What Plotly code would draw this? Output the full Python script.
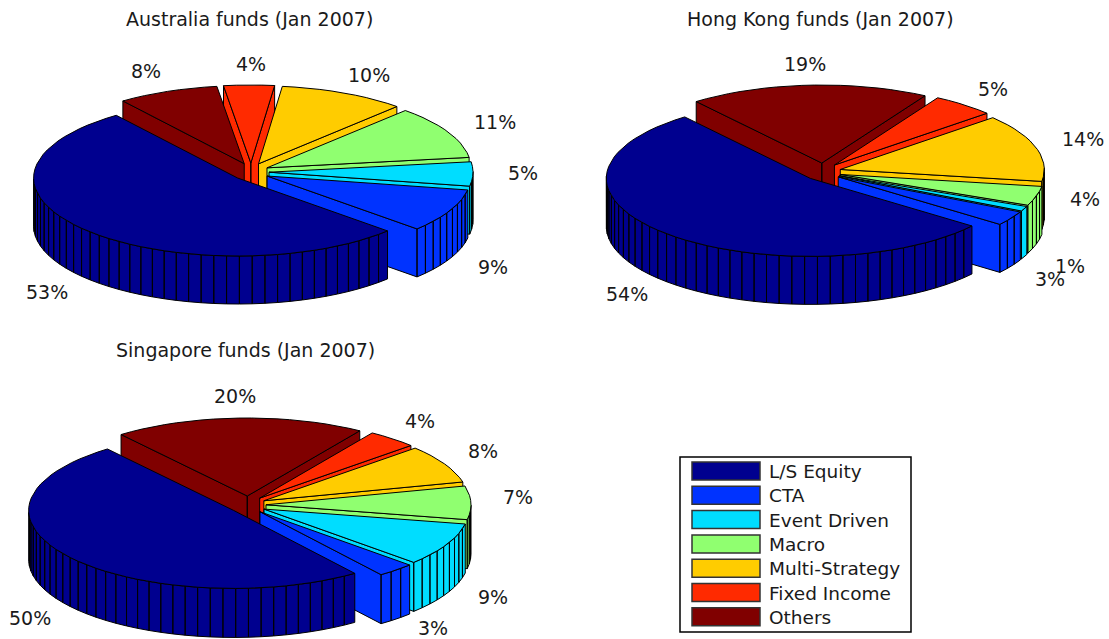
import numpy as np
import plotly.graph_objects as go

# Fund strategy categories and the share of funds in each, per domicile
categories = ["L/S Equity", "CTA", "Event Driven", "Macro", "Multi-Strategy", "Fixed Income", "Others"]
australia = [53, 9, 5, 11, 10, 4, 8]
hong_kong = [54, 3, 1, 4, 14, 5, 19]
singapore = [50, 3, 9, 7, 8, 4, 20]

colors = ["#00008F", "#0033FF", "#00DDFF", "#90FF70", "#FFCC00", "#FF2A00", "#800000"]
FONT = "DejaVu Sans, Liberation Sans, Arial, sans-serif"
TEXT = "#1a1a1a"

# Placement of each pie on the page: centre, ellipse radii, wall height, explode offsets, start angle
panels = [
    dict(title="Australia funds (Jan 2007)", title_xy=(249, 19), values=australia,
         cx=251, cy=172, rx=204, ry=78, depth=48, ex=18, ey=9, start=126.5,
         labels_xy=[(47, 292), (493, 267), (523, 173), (495, 122), (369, 75), (251, 64), (146, 71)]),
    dict(title="Hong Kong funds (Jan 2007)", title_xy=(820, 19), values=hong_kong,
         cx=823, cy=172, rx=204, ry=78, depth=48, ex=18, ey=9, start=128,
         labels_xy=[(627, 294), (1050, 279), (1070, 266), (1085, 199), (1083, 139), (993, 89), (805, 64)]),
    dict(title="Singapore funds (Jan 2007)", title_xy=(245, 350), values=singapore,
         cx=248, cy=505, rx=205, ry=78, depth=49, ex=18, ey=9, start=128,
         labels_xy=[(30, 618), (433, 628), (493, 597), (518, 497), (483, 451), (420, 421), (235, 396)]),
]


def poly(points):
    """Closed polygon as x and y lists, ending in a gap so several can share a trace."""
    xs = [p[0] for p in points] + [points[0][0], None]
    ys = [p[1] for p in points] + [points[0][1], None]
    return xs, ys


def add_polys(fig, polygons, color):
    xs, ys = [], []
    for pts in polygons:
        px, py = poly(pts)
        xs += px
        ys += py
    fig.add_trace(go.Scatter(x=xs, y=ys, mode="lines", fill="toself", fillcolor=color,
                             line=dict(color="#000000", width=1), hoverinfo="skip", showlegend=False))


def add_pie(fig, p):
    shares = np.array(p["values"], dtype=float)
    shares = shares / shares.sum()
    edges = p["start"] + 360 * np.concatenate([[0], np.cumsum(shares)])
    slices = []
    for i, share in enumerate(shares):
        n = max(1, int(np.ceil(share * 100)))
        th = np.radians(np.linspace(edges[i], edges[i + 1], n + 1))
        mid = np.radians((edges[i] + edges[i + 1]) / 2)
        ax = p["cx"] + p["ex"] * np.cos(mid)
        ay = p["cy"] - p["ey"] * np.sin(mid)
        rim = np.column_stack([ax + p["rx"] * np.cos(th), ay - p["ry"] * np.sin(th)])
        slices.append(dict(i=i, th=th, mid=mid, apex=(ax, ay), rim=rim, key=np.sin(th).min()))

    # Back slices first, so the ones nearer the viewer paint over them
    for s in sorted(slices, key=lambda s: -s["key"]):
        d = p["depth"]
        ax, ay = s["apex"]
        rim = s["rim"]
        walls = []
        inner = (ax + 0.5 * p["rx"] * np.cos(s["mid"]), ay - 0.5 * p["ry"] * np.sin(s["mid"]))
        for end in (rim[0], rim[-1]):
            ex, ey = end[0] - ax, end[1] - ay
            side_down = ex * d
            side_in = ex * (inner[1] - ay) - ey * (inner[0] - ax)
            if side_down * side_in < 0:
                walls.append([(ax, ay), tuple(end), (end[0], end[1] + d), (ax, ay + d)])
        for k in range(len(rim) - 1):
            if np.sin((s["th"][k] + s["th"][k + 1]) / 2) < 0:
                a, b = rim[k], rim[k + 1]
                walls.append([tuple(a), tuple(b), (b[0], b[1] + d), (a[0], a[1] + d)])
        if walls:
            add_polys(fig, walls, colors[s["i"]])
        add_polys(fig, [[(ax, ay)] + [tuple(q) for q in rim]], colors[s["i"]])


fig = go.Figure()
annotations = []


def add_text(x, y, text, anchor="center", size=19):
    annotations.append(dict(x=x, y=y, text=text, showarrow=False, xanchor=anchor, yanchor="middle",
                            font=dict(family=FONT, size=size, color=TEXT)))


for panel in panels:
    add_pie(fig, panel)
    add_text(*panel["title_xy"], panel["title"])
    for val, (lx, ly) in zip(panel["values"], panel["labels_xy"]):
        add_text(lx, ly, f"{val}%")

# Key box with one swatch per category
fig.add_shape(type="rect", x0=680, y0=457, x1=911, y1=632, line=dict(color="#000000", width=1.5),
              fillcolor="#ffffff", layer="below")
for row, (name, color) in enumerate(zip(categories, colors)):
    top = 462 + 24.3 * row
    fig.add_shape(type="rect", x0=692, x1=760, y0=top, y1=top + 18, fillcolor=color,
                  line=dict(color="#333333", width=1.5))
    add_text(767, top + 9.5, name, anchor="left", size=18.5)

fig.update_layout(
    width=1109, height=639, margin=dict(l=0, r=0, t=0, b=0),
    paper_bgcolor="#ffffff", plot_bgcolor="#ffffff", showlegend=False,
    xaxis=dict(range=[0, 1109], visible=False, fixedrange=True),
    yaxis=dict(range=[639, 0], visible=False, fixedrange=True),
    annotations=annotations,
)
fig.write_html("out.html", config=dict(displayModeBar=False))
